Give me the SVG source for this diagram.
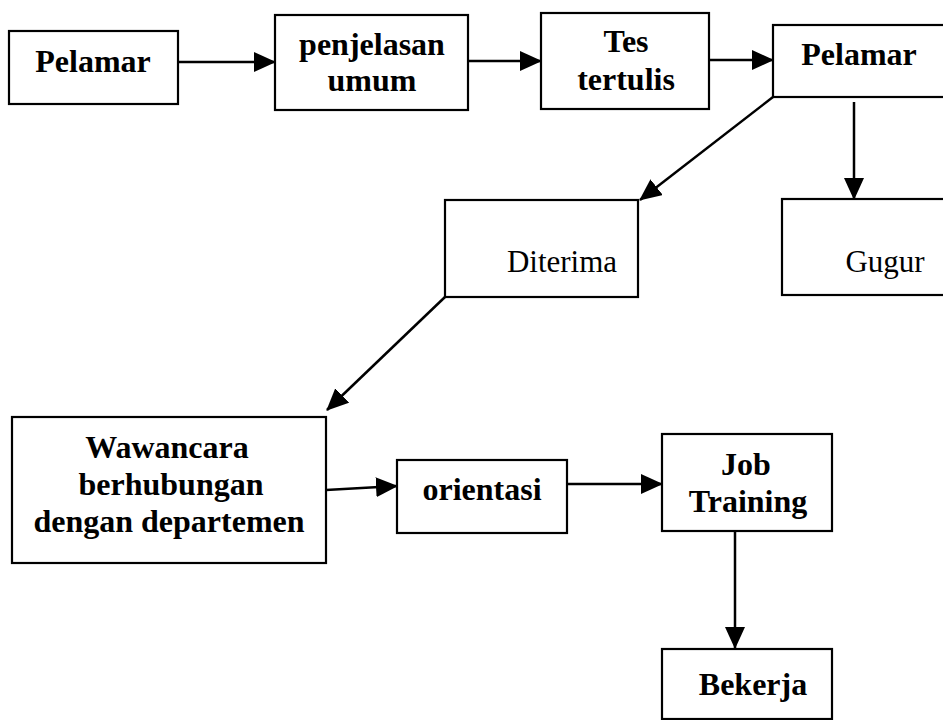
<svg xmlns="http://www.w3.org/2000/svg" width="943" height="720" viewBox="0 0 943 720">
<style>
.box{fill:#fff;stroke:#000;stroke-width:2.2}
.t{font-family:"Liberation Serif","Times New Roman",serif;font-size:32px;font-weight:bold;text-anchor:middle;fill:#000}
.r{font-family:"Liberation Serif","Times New Roman",serif;font-size:31px;text-anchor:middle;fill:#000}
.c{stroke:#000;stroke-width:2.5;fill:none;marker-end:url(#ah)}
</style>
<defs>
<marker id="ah" markerUnits="userSpaceOnUse" markerWidth="22" markerHeight="20" refX="21" refY="10" orient="auto">
<path d="M0,0 L22,10 L0,20 Z" fill="#000"/>
</marker>
</defs>
<rect width="943" height="720" fill="#fff"/>
<g id="connectors">
<line class="c" x1="178" y1="62" x2="275" y2="62"/>
<line class="c" x1="468" y1="61" x2="541" y2="61"/>
<line class="c" x1="709" y1="60" x2="773" y2="60"/>
<line class="c" x1="773" y1="97" x2="640" y2="200"/>
<line class="c" x1="854" y1="102" x2="854" y2="199"/>
<line class="c" x1="445" y1="297" x2="327" y2="410"/>
<line class="c" x1="326" y1="490" x2="397" y2="486"/>
<line class="c" x1="567" y1="484" x2="662" y2="484"/>
<line class="c" x1="735" y1="532" x2="735" y2="648"/>
</g>
<g id="pelamar1">
<rect class="box" x="9" y="31" width="169" height="73"/>
<text class="t" x="93" y="72">Pelamar</text>
</g>
<g id="penjelasan">
<rect class="box" x="275" y="15" width="193" height="95"/>
<text class="t" x="372" y="55">penjelasan</text>
<text class="t" x="372" y="91">umum</text>
</g>
<g id="tes">
<rect class="box" x="541" y="13" width="168" height="96"/>
<text class="t" x="626" y="52">Tes</text>
<text class="t" x="626" y="90">tertulis</text>
</g>
<g id="pelamar2">
<rect class="box" x="773" y="25" width="180" height="72"/>
<text class="t" x="859" y="65">Pelamar</text>
</g>
<g id="diterima">
<rect class="box" x="445" y="200" width="193" height="97"/>
<text class="r" x="562" y="272">Diterima</text>
</g>
<g id="gugur">
<rect class="box" x="782" y="199" width="180" height="96"/>
<text class="r" x="885" y="272">Gugur</text>
</g>
<g id="wawancara">
<rect class="box" x="12" y="417" width="314" height="146"/>
<text class="t" x="167" y="458">Wawancara</text>
<text class="t" x="171" y="495">berhubungan</text>
<text class="t" x="169" y="532">dengan departemen</text>
</g>
<g id="orientasi">
<rect class="box" x="397" y="460" width="170" height="73"/>
<text class="t" x="482" y="500">orientasi</text>
</g>
<g id="jobtraining">
<rect class="box" x="662" y="434" width="170" height="97"/>
<text class="t" x="746" y="475">Job</text>
<text class="t" x="748" y="512">Training</text>
</g>
<g id="bekerja">
<rect class="box" x="662" y="649" width="170" height="70"/>
<text class="t" x="753" y="695">Bekerja</text>
</g>
</svg>
